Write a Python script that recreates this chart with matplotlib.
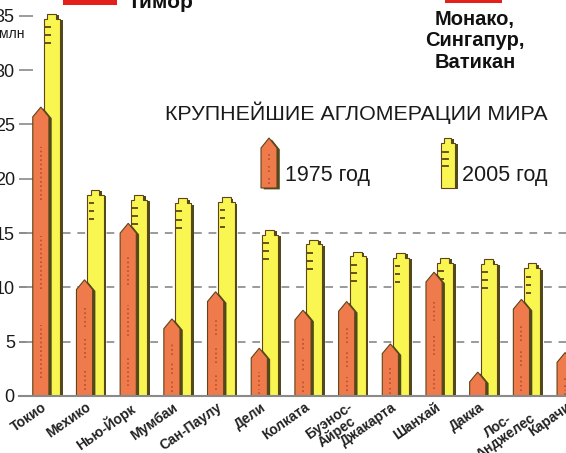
import matplotlib
matplotlib.use('Agg')
import matplotlib.pyplot as plt
from matplotlib.patches import Polygon, Rectangle
import matplotlib.patheffects as pe

# Population of the largest agglomerations, mln people
cities = ['Токио', 'Мехико', 'Нью-Йорк', 'Мумбаи', 'Сан-Паулу', 'Дели',
          'Колката', 'Буэнос-\nАйрес', 'Джакарта', 'Шанхай', 'Дакка',
          'Лос-\nАнджелес', 'Карачи']
pop_1975 = [26.6, 10.7, 15.9, 7.1, 9.6, 4.4, 7.9, 8.7, 4.8, 11.4, 2.2, 8.9, 4.0]
pop_2005 = [35.2, 19.0, 18.5, 18.2, 18.3, 15.3, 14.4, 13.3, 13.2, 12.7, 12.6, 12.2, 11.6]
y_ticks = [0, 5, 10, 15, 20, 25, 30, 35]
grid_levels = [5, 10, 15]

ORANGE = '#ef7a4c'
YELLOW = '#f9f652'
EDGE = '#5e4418'
SHADOW = '#4f4a1c'
GRIDC = '#9a9a9a'

W, H = 566, 453
fig = plt.figure(figsize=(W / 100, H / 100), dpi=100)
ax = fig.add_axes([19 / W, 57 / H, 1 - 19 / W, 396 / H])
ax.set_xlim(-0.5, 11.82)
ax.set_ylim(0, 36.46)

shadow = [pe.SimplePatchShadow(offset=(2, -1), shadow_rgbFace=SHADOW, alpha=1),
          pe.Normal()]
w = 0.37
dx = 0.25

for lvl in grid_levels:
    ax.axhline(lvl, color=GRIDC, lw=1.4, ls=(0, (4, 3.5)), zorder=0)

# 2005 towers (behind)
for i, v in enumerate(pop_2005):
    c = i + dx
    x0, x1 = c - w / 2, c + w / 2
    n = 0.45
    pts = [(x0, 0), (x0, v - n), (x0 + w * 0.2, v - n), (x0 + w * 0.2, v),
           (x1 - w * 0.25, v), (x1 - w * 0.25, v - n), (x1, v - n), (x1, 0)]
    p = Polygon(pts, closed=True, fc=YELLOW, ec=EDGE, lw=0.8, zorder=2)
    p.set_path_effects(shadow)
    ax.add_patch(p)
    for k in range(3):
        yy = v - 1.2 - 0.75 * k
        ax.plot([x0 + 0.03, x0 + 0.16], [yy, yy], color=EDGE, lw=1.3,
                solid_capstyle='butt', zorder=3)

# 1975 towers (front)
for i, v in enumerate(pop_1975):
    c = i
    x0, x1 = c - w / 2, c + w / 2
    r = 0.9
    pts = [(x0, 0), (x0, v - r), (c, v), (x1, v - r), (x1, 0)]
    p = Polygon(pts, closed=True, fc=ORANGE, ec=EDGE, lw=0.8, zorder=4)
    p.set_path_effects(shadow)
    ax.add_patch(p)
    top = v - 2.0
    if top > 0.8:
        seg = top / 3
        for k in range(3):
            ax.plot([c, c], [k * seg + seg * 0.2, (k + 1) * seg - seg * 0.2],
                    color='#b5502e', lw=1.2, ls=(0, (1, 1.6)), zorder=5)

# axes styling
for s in ['left', 'right', 'top']:
    ax.spines[s].set_visible(False)
ax.spines['bottom'].set_color('#8a8a8a')
ax.spines['bottom'].set_linewidth(1.5)
ax.spines['bottom'].set_zorder(6)
ax.set_yticks(y_ticks)
ax.set_yticklabels([str(t) for t in y_ticks])
ax.tick_params(axis='y', direction='in', length=10, width=1.2, color='#8a8a8a',
               pad=3, labelsize=13, labelcolor='#1a1a1a')
ax.set_xticks([i + 0.02 for i in range(len(cities))])
ax.set_xticklabels(cities, rotation=35, ha='right', va='top',
                   rotation_mode='anchor', fontsize=10, color='#222222',
                   multialignment='center', fontweight='bold', linespacing=0.95)
ax.tick_params(axis='x', length=0, pad=3)
for lab in ax.get_yticklabels() + ax.get_xticklabels():
    lab.set_family(['Liberation Sans', 'DejaVu Sans'])

# texts around
fam = ['Liberation Sans', 'DejaVu Sans']
fig.text(12 / W, 1 - 34 / H, 'млн', ha='center', va='center', fontsize=10,
         family=fam, color='#1a1a1a')
fig.text(356 / W, 1 - 113 / H, 'КРУПНЕЙШИЕ АГЛОМЕРАЦИИ МИРА', ha='center',
         va='center', fontsize=15.4, family=fam, color='#1a1a1a')
fig.text(285 / W, 1 - 176 / H, '1975 год', ha='left', va='center',
         fontsize=15.5, family=fam, color='#1a1a1a')
fig.text(462 / W, 1 - 176 / H, '2005 год', ha='left', va='center',
         fontsize=15.5, family=fam, color='#1a1a1a')
for txt, yy in [('Монако,', 19), ('Сингапур,', 40), ('Ватикан', 62)]:
    fig.text(475 / W, 1 - yy / H, txt, ha='center', va='center',
             fontsize=14.5, fontweight='bold', family=fam, color='#111111')
fig.text(128 / W, 1 - 8 / H, 'Тимор', ha='left', va='baseline',
         fontsize=15, fontweight='bold', family=fam, color='#111111')


def px(x, y):
    return (x / W, 1 - y / H)


fig.patches.append(Rectangle(px(63, 5), 54 / W, 8 / H, transform=fig.transFigure,
                             fc='#e3201c', ec='none'))
fig.patches.append(Rectangle(px(445, 3), 57 / W, 6 / H, transform=fig.transFigure,
                             fc='#e3201c', ec='none'))

# legend icons
leg_o = Polygon([px(261, 188), px(261, 148), px(269, 138), px(277, 148), px(277, 188)],
                closed=True, transform=fig.transFigure, fc=ORANGE, ec=EDGE, lw=0.8)
leg_o.set_path_effects(shadow)
fig.patches.append(leg_o)
leg_y = Polygon([px(441, 188), px(441, 143), px(444, 143), px(444, 138), px(451, 138),
                 px(451, 143), px(455, 143), px(455, 188)],
                closed=True, transform=fig.transFigure, fc=YELLOW, ec=EDGE, lw=0.8)
leg_y.set_path_effects(shadow)
fig.patches.append(leg_y)
for yy in (152, 159, 166):
    fig.lines.append(plt.Line2D([443 / W, 448 / W], [1 - yy / H, 1 - yy / H],
                                transform=fig.transFigure, color=EDGE, lw=1.3))
for y0 in (154, 166, 178):
    fig.lines.append(plt.Line2D([269 / W, 269 / W], [1 - y0 / H, 1 - (y0 + 7) / H],
                                transform=fig.transFigure, color='#b5502e', lw=1.2,
                                ls=(0, (1, 1.6))))

fig.savefig('out.png', dpi=100)
